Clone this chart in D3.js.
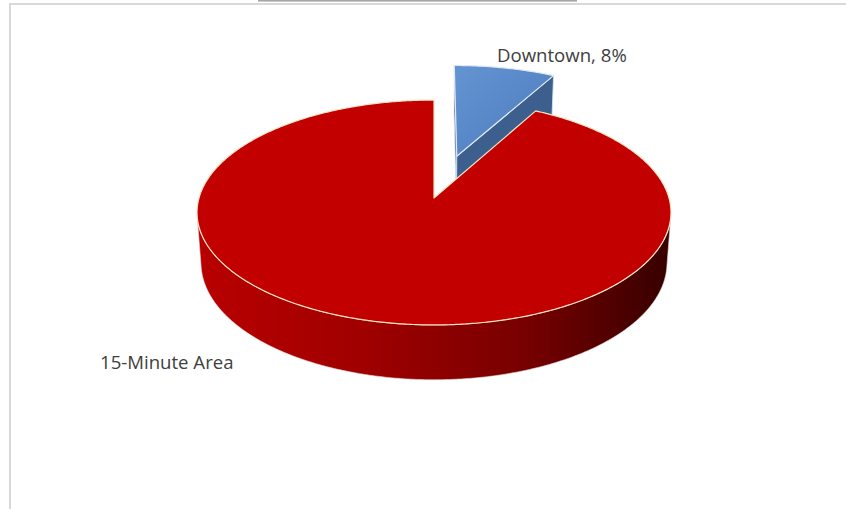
<!DOCTYPE html>
<html>
<head>
<meta charset="utf-8">
<script src="https://cdn.jsdelivr.net/npm/d3@7/dist/d3.min.js"></script>
<style>
  html, body { margin: 0; padding: 0; background: #fff; }
  svg { display: block; }
</style>
</head>
<body>
<script>
// Share of trips by area
const categories = ["Downtown", "15-Minute Area"];
const shares = [8, 92];
const labels = ["Downtown, 8%", "15-Minute Area"];

const W = 846, H = 509;
const svg = d3.select("body").append("svg").attr("width", W).attr("height", H);

// chart frame
svg.append("rect").attr("x", 10).attr("y", 4).attr("width", W + 20).attr("height", H + 20)
  .attr("fill", "#fff").attr("stroke", "#d9d9d9").attr("stroke-width", 2);
svg.append("rect").attr("x", 258).attr("y", 0).attr("width", 319).attr("height", 1.6)
  .attr("fill", "#a6a6a6");

// 3D projection of the pie disc: X right, Y toward viewer, Z up (unit radius)
const cx = 434, cy = 198, R = 235;
const tilt = Math.asin(0.4706);
const sinA = Math.sin(tilt), cosA = Math.cos(tilt);
const F = 6.85;          // perspective distance
const thick = 0.245;     // disc thickness
const explode = 0.41;    // pull-out of the detached slice

function project(X, Y, Z) {
  const sx = X;
  const sy = Y * sinA - Z * cosA;
  const depth = Y * cosA + Z * sinA;
  const s = F / (F - depth);
  return [cx + R * sx * s, cy + R * sy * s];
}

const pie = d3.pie().sort(null).value(d => d)
  .startAngle(0).endAngle(2 * Math.PI);
const arcs = pie(shares);

function rim(a, ox, oy, z, r = 1) {
  return [r * Math.sin(a) + ox, -r * Math.cos(a) + oy, z];
}
function arcPoints(a0, a1, ox, oy, z, r = 1) {
  const n = Math.max(2, Math.ceil((a1 - a0) / 0.01));
  const pts = [];
  for (let i = 0; i <= n; i++) {
    const a = a0 + (a1 - a0) * i / n;
    pts.push(project(...rim(a, ox, oy, z, r)));
  }
  return pts;
}
const line = d3.line();

const defs = svg.append("defs");
const sideGrad = defs.append("linearGradient").attr("id", "redSide")
  .attr("gradientUnits", "userSpaceOnUse")
  .attr("x1", 197).attr("y1", 0).attr("x2", 671).attr("y2", 0);
[[0, "#b80000"], [0.35, "#a00000"], [0.7, "#760000"], [1, "#360000"]]
  .forEach(([o, c]) => sideGrad.append("stop").attr("offset", o).attr("stop-color", c));
const blueGrad = defs.append("linearGradient").attr("id", "blueTop")
  .attr("x1", 0).attr("y1", 0).attr("x2", 1).attr("y2", 1);
[[0, "#6594d2"], [1, "#4a7bbd"]]
  .forEach(([o, c]) => blueGrad.append("stop").attr("offset", o).attr("stop-color", c));

const topFill = ["url(#blueTop)", "#c20000"];
const cutFill = ["#3c5f8e", "#8a0000"];
const edgeStroke = ["#dfe8f3", "#f6e4c6"];
const sliceRadius = [1.02, 1];

const g = svg.append("g");

// signed area test for faces turned toward the viewer
function facing(pts) {
  let a = 0;
  for (let i = 0; i < pts.length; i++) {
    const p = pts[i], q = pts[(i + 1) % pts.length];
    a += p[0] * q[1] - q[0] * p[1];
  }
  return a;
}

function drawSlice(d, i) {
  const mid = (d.startAngle + d.endAngle) / 2;
  const ex = i === 0 ? explode : 0;
  const r = sliceRadius[i];
  const ox = Math.sin(mid) * ex, oy = -Math.cos(mid) * ex;
  const c0 = project(ox, oy, 0), c1 = project(ox, oy, -thick);

  // radial cut faces
  [[d.startAngle, 1], [d.endAngle, -1]].forEach(([a, dir]) => {
    const t = project(...rim(a, ox, oy, 0, r));
    const b = project(...rim(a, ox, oy, -thick, r));
    const quad = [c0, t, b, c1];
    if (facing(quad) * dir < 0) {
      g.append("path").attr("d", line(quad) + "Z")
        .attr("fill", cutFill[i]).attr("stroke", edgeStroke[i]).attr("stroke-width", 0.8)
        .attr("stroke-linejoin", "round");
    }
  });

  // outer rim: keep segments that face the viewer
  const step = 0.005;
  let vis = [];
  for (let a = d.startAngle; a < d.endAngle - 1e-9; a += step) {
    const a2 = Math.min(a + step, d.endAngle);
    const q = [project(...rim(a, ox, oy, 0, r)), project(...rim(a2, ox, oy, 0, r)),
               project(...rim(a2, ox, oy, -thick, r)), project(...rim(a, ox, oy, -thick, r))];
    if (facing(q) < 0) vis.push([a, a2]);
  }
  if (vis.length) {
    const a0 = vis[0][0], a1 = vis[vis.length - 1][1];
    const topPts = arcPoints(a0, a1, ox, oy, 0, r);
    const botPts = arcPoints(a0, a1, ox, oy, -thick, r).reverse();
    g.append("path").attr("d", line(topPts.concat(botPts)) + "Z")
      .attr("fill", i === 1 ? "url(#redSide)" : "#2f4f7a")
      .attr("stroke", "#e6dcd8").attr("stroke-width", 0.6);
  }

  // top face
  const topPts = [c0].concat(arcPoints(d.startAngle, d.endAngle, ox, oy, 0, r));
  g.append("path").attr("d", line(topPts) + "Z")
    .attr("fill", topFill[i]).attr("stroke", edgeStroke[i]).attr("stroke-width", 1.2)
    .attr("stroke-linejoin", "round");
}

// detached slice sits behind, draw it first
drawSlice(arcs[0], 0);
drawSlice(arcs[1], 1);

// data labels
const labelPos = [[497, 62], [100, 369]];
svg.selectAll("text.lbl").data(labels).join("text")
  .attr("class", "lbl")
  .attr("x", (d, i) => labelPos[i][0])
  .attr("y", (d, i) => labelPos[i][1])
  .attr("font-family", "'Open Sans', sans-serif")
  .attr("font-size", 18.6)
  .attr("fill", "#404040")
  .text(d => d);
</script>
</body>
</html>
